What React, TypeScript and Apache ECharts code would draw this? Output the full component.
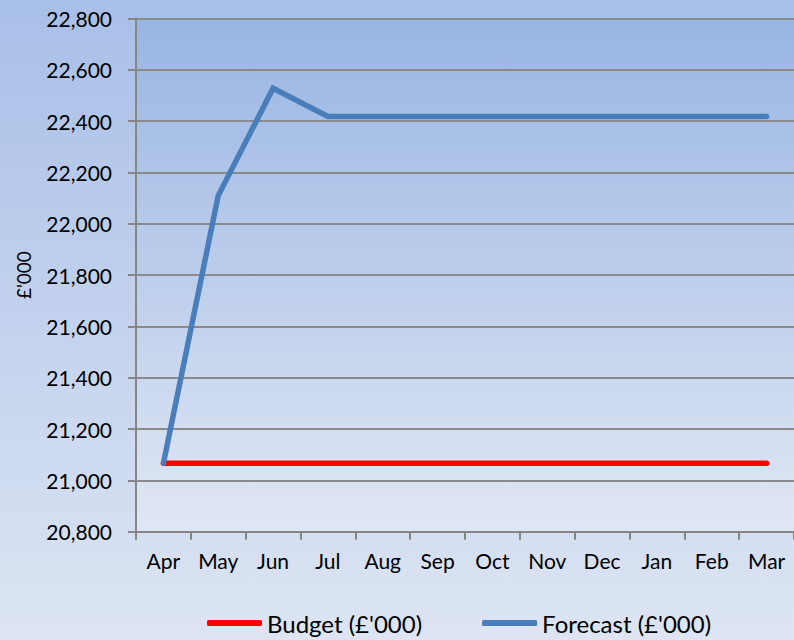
import React, { useEffect, useRef } from "react";
import * as echarts from "echarts";

const months = ["Apr", "May", "Jun", "Jul", "Aug", "Sep", "Oct", "Nov", "Dec", "Jan", "Feb", "Mar"];
const budget = [21067, 21067, 21067, 21067, 21067, 21067, 21067, 21067, 21067, 21067, 21067, 21067];
const forecast = [21067, 22110, 22528, 22418, 22418, 22418, 22418, 22418, 22418, 22418, 22418, 22418];
const yMin = 20800;
const yMax = 22800;
const yStep = 200;

const FONT = "Lato";

export default function App() {
  const ref = useRef<HTMLDivElement>(null);
  useEffect(() => {
    if (!ref.current) return;
    const chart = echarts.init(ref.current, undefined, { renderer: "svg" });
    chart.setOption({
      animation: false,
      backgroundColor: "transparent",
      textStyle: { fontFamily: FONT },
      grid: {
        left: 136,
        top: 18.5,
        right: -3,
        bottom: 108.3,
        show: true,
        borderWidth: 0,
        backgroundColor: new echarts.graphic.LinearGradient(0, 0, 0, 1, [
          { offset: 0, color: "#99b5e3" },
          { offset: 1, color: "#e0e7f4" },
        ]),
      },
      legend: {
        left: 207,
        top: 611,
        padding: 0,
        itemWidth: 55,
        itemHeight: 6,
        itemGap: 60,
        icon: "roundRect",
        textStyle: { fontFamily: FONT, fontSize: 24, color: "#000" },
        data: [
          { name: "Budget (£'000)", icon: "roundRect", itemStyle: { color: "#ff0000" } },
          { name: "Forecast (£'000)", icon: "roundRect", itemStyle: { color: "#4a7ebb" } },
        ],
      },
      xAxis: {
        type: "category",
        data: months,
        boundaryGap: true,
        axisLine: { show: true, lineStyle: { color: "#868686", width: 2 } },
        axisTick: { show: true, length: 8, lineStyle: { color: "#868686", width: 2 } },
        axisLabel: { color: "#000", fontFamily: FONT, fontSize: 21, margin: 18 },
        splitLine: { show: false },
      },
      yAxis: {
        type: "value",
        min: yMin,
        max: yMax,
        interval: yStep,
        name: "£'000",
        nameLocation: "middle",
        nameGap: 103,
        nameRotate: 90,
        nameTextStyle: { color: "#000", fontFamily: FONT, fontSize: 19 },
        axisLine: { show: true, lineStyle: { color: "#868686", width: 2 } },
        axisTick: { show: true, length: 8, inside: false, lineStyle: { color: "#868686", width: 2 } },
        axisLabel: {
          color: "#000",
          fontFamily: FONT,
          fontSize: 21,
          margin: 24,
          formatter: (v: number) => v.toLocaleString("en-US"),
        },
        splitLine: { show: true, lineStyle: { color: "#8a8a8a", width: 2 } },
      },
      series: [
        {
          name: "Budget (£'000)",
          type: "line",
          data: budget,
          symbol: "none",
          lineStyle: { color: "#ff0000", width: 5.5, cap: "round" },
          itemStyle: { color: "#ff0000" },
        },
        {
          name: "Forecast (£'000)",
          type: "line",
          data: forecast,
          symbol: "none",
          lineStyle: { color: "#4a7ebb", width: 5.5, cap: "round", join: "miter" },
          itemStyle: { color: "#4a7ebb" },
        },
      ],
    });
    return () => chart.dispose();
  }, []);
  return (
    <div
      style={{
        position: "fixed",
        left: 0,
        top: 0,
        width: 794,
        height: 640,
        background: "linear-gradient(to bottom, #a8bfe8 0%, #dde5f3 100%)",
      }}
    >
      <div ref={ref} style={{ width: 794, height: 640 }} />
    </div>
  );
}
